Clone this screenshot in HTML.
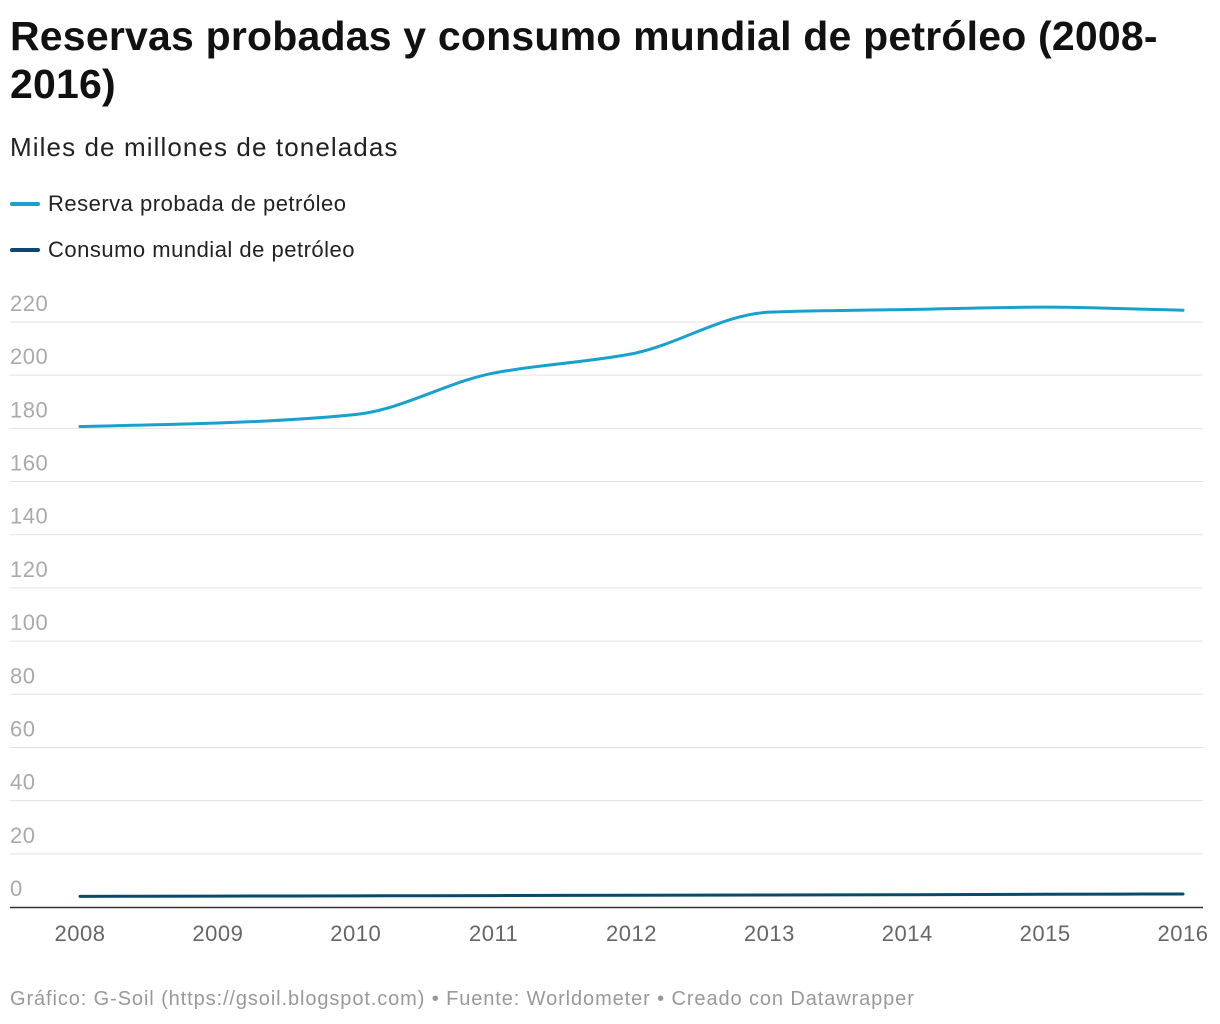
<!DOCTYPE html>
<html><head><meta charset="utf-8">
<style>
body{margin:0;width:1220px;height:1024px;background:#fff;font-family:"Liberation Sans",sans-serif;overflow:hidden;position:relative}
.t{position:absolute;left:10px;top:12px;font-size:41px;font-weight:bold;line-height:48px;color:#111;width:1200px;letter-spacing:0.2px}
.s{position:absolute;left:10px;top:132px;font-size:26px;color:#222;letter-spacing:1.1px}
.lg{position:absolute;left:10px;font-size:22px;color:#222;display:flex;align-items:center;letter-spacing:0.5px}
.lg i{display:inline-block;width:30px;height:4px;border-radius:2px;margin-right:8px}
.f{position:absolute;left:10px;top:988px;font-size:20px;color:#999;letter-spacing:0.9px}
svg{position:absolute;left:0;top:0}
</style></head><body>
<div class="t">Reservas probadas y consumo mundial de petróleo (2008-<br>2016)</div>
<div class="s">Miles de millones de toneladas</div>
<div class="lg" style="top:191px"><i style="background:#18a1cd"></i>Reserva probada de petróleo</div>
<div class="lg" style="top:237px"><i style="background:#09496b"></i>Consumo mundial de petróleo</div>
<svg id="c" width="1220" height="1024"></svg>
<div class="f">Gráfico: G-Soil (https://gsoil.blogspot.com) • Fuente: Worldometer • Creado con Datawrapper</div>
<script>
const years=[2008,2009,2010,2011,2012,2013,2014,2015,2016];
const reserves=[180.7,182,185.2,200.8,208,223.7,224.7,225.6,224.4];
const consumption=[4.0,4.1,4.2,4.3,4.4,4.5,4.6,4.8,4.9];
const yTicks=[0,20,40,60,80,100,120,140,160,180,200,220];
const NS="http://www.w3.org/2000/svg";
const svg=document.getElementById('c');
const x=v=>80+(v-2008)*(1183-80)/8;
const y=v=>907-v*(907-322)/220;
function el(t,a,p){const e=document.createElementNS(NS,t);for(const k in a)e.setAttribute(k,a[k]);(p||svg).appendChild(e);return e;}
yTicks.forEach(t=>{
  if(t>0){const l=el('line',{x1:10,x2:1203,y1:y(t),y2:y(t),stroke:'#e2e2e2','stroke-width':1});
  
  }
  const tx=el('text',{x:10,y:y(t)-11,'font-size':22,fill:'#aaa','letter-spacing':0.5});tx.textContent=t;
  
  
});
const ax=el('line',{x1:10,x2:1203,y1:907.5,y2:907.5,stroke:'#333','stroke-width':1.5});


years.forEach(yr=>{
  const tx=el('text',{x:x(yr),y:941,'font-size':22,fill:'#666','text-anchor':'middle','letter-spacing':0.5});tx.textContent=yr;
  
  
});
function mono(xs,ys){
  const n=xs.length,d=[],m=[];
  for(let i=0;i<n-1;i++)d.push((ys[i+1]-ys[i])/(xs[i+1]-xs[i]));
  m[0]=d[0];m[n-1]=d[n-2];
  for(let i=1;i<n-1;i++){const a=d[i-1],b=d[i];m[i]=(a*b<=0)?0:2/(1/a+1/b);}
  let p=`M${xs[0]},${ys[0]}`;
  for(let i=0;i<n-1;i++){const h=(xs[i+1]-xs[i])/3;
    p+=` C${xs[i]+h},${ys[i]+m[i]*h} ${xs[i+1]-h},${ys[i+1]-m[i+1]*h} ${xs[i+1]},${ys[i+1]}`;}
  return p;
}
function line(vals,color,name){
  const p=el('path',{d:mono(years.map(x),vals.map(y)),fill:'none',stroke:color,'stroke-width':3,'stroke-linejoin':'round','stroke-linecap':'round'});
  
  
}
line(reserves,'#18a1cd','line-reserves');
line(consumption,'#09496b','line-consumption');
</script>
</body></html>
